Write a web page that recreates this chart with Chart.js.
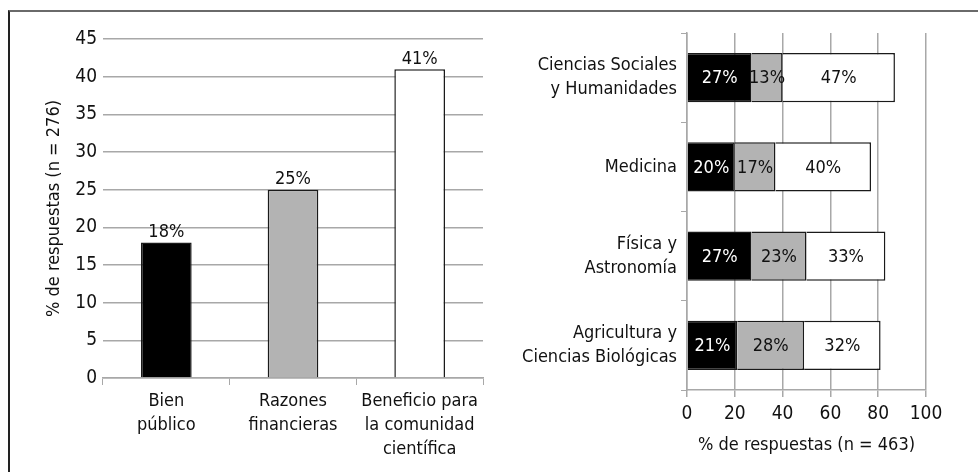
<!DOCTYPE html>
<html>
<head>
<meta charset="utf-8">
<script src="https://cdn.jsdelivr.net/npm/chart.js@4/dist/chart.umd.min.js"></script>
<style>
  html, body { margin: 0; padding: 0; background: #fff; }
  body { width: 978px; height: 472px; position: relative; overflow: hidden; }
  .frame { position: absolute; left: 8px; top: 10px; width: 1000px; height: 500px;
           border-top: 2px solid #6a6a6a; border-left: 2px solid #222; }
  .box { position: absolute; top: 0; height: 472px; }
  #leftBox { left: 0; width: 490px; }
  #rightBox { left: 490px; width: 488px; }
</style>
</head>
<body>
<div class="frame"></div>
<div class="box" id="leftBox"><canvas id="motivosChart"></canvas></div>
<div class="box" id="rightBox"><canvas id="areasChart"></canvas></div>
<script>
// data
const motivos = [["Bien", "público"], ["Razones", "financieras"], ["Beneficio para", "la comunidad", "científica"]];
const motivoValores = [18, 25, 41];

const areas = [["Ciencias Sociales", "y Humanidades"], "Medicina", ["Física y", "Astronomía"], ["Agricultura y", "Ciencias Biológicas"]];
const serieNegra = [27, 20, 27, 21];
const serieGris = [13, 17, 23, 28];
const serieBlanca = [47, 40, 33, 32];

const FONT = "'Liberation Sans Narrow', 'DejaVu Sans Condensed', 'Liberation Sans', sans-serif";
Chart.defaults.font.family = FONT;
Chart.defaults.font.size = 18;
Chart.defaults.color = "#111";
Chart.defaults.animation = false;
Chart.defaults.responsive = true;
Chart.defaults.maintainAspectRatio = false;

const GRID = "#a8a8a8";

// percent labels on the bars
const barLabels = {
  id: "barLabels",
  afterDatasetsDraw(chart, args, opts) {
    const ctx = chart.ctx;
    ctx.save();
    ctx.font = "18px " + FONT;
    ctx.textAlign = "center";
    chart.data.datasets.forEach((ds, i) => {
      chart.getDatasetMeta(i).data.forEach((bar, j) => {
        const txt = ds.data[j] + "%";
        if (opts.mode === "top") {
          ctx.fillStyle = "#111";
          ctx.textBaseline = "bottom";
          ctx.fillText(txt, bar.x, bar.y - 1);
        } else {
          ctx.fillStyle = ds.labelColor || "#111";
          ctx.textBaseline = "middle";
          ctx.fillText(txt, (bar.x + bar.base) / 2, bar.y + 1);
        }
      });
    });
    ctx.restore();
  }
};

// Left: motivos
new Chart(document.getElementById("motivosChart"), {
  type: "bar",
  data: {
    labels: motivos,
    datasets: [{
      data: motivoValores,
      backgroundColor: ["#000000", "#b3b3b3", "#ffffff"],
      borderColor: "#1a1a1a",
      borderWidth: 1.5,
      barPercentage: 0.4,
      categoryPercentage: 1
    }]
  },
  options: {
    layout: { padding: { top: 39, right: 7, left: 0, bottom: 0 } },
    plugins: { legend: { display: false }, tooltip: { enabled: false }, barLabels: { mode: "top" } },
    scales: {
      x: {
        grid: { drawOnChartArea: false, color: GRID, tickLength: 7 },
        border: { color: GRID, width: 1.5 },
        ticks: { padding: 4, font: { size: 18, lineHeight: 1.33 }, maxRotation: 0 },
        afterFit(scale) { scale.height = 94; }
      },
      y: {
        min: 0, max: 45,
        ticks: { stepSize: 5, padding: 6, font: { size: 19 } },
        grid: { color: GRID, lineWidth: 1.5, drawTicks: false },
        border: { display: false },
        title: { display: true, text: "% de respuestas (n = 276)", font: { size: 18 }, padding: { top: 44 } },
        afterFit(scale) { scale.width = 103; }
      }
    }
  },
  plugins: [barLabels]
});

// Right: areas
new Chart(document.getElementById("areasChart"), {
  type: "bar",
  data: {
    labels: areas,
    datasets: [
      { data: serieNegra, backgroundColor: "#000000", labelColor: "#ffffff" },
      { data: serieGris, backgroundColor: "#b3b3b3" },
      { data: serieBlanca, backgroundColor: "#ffffff" }
    ].map(d => Object.assign(d, { borderColor: "#1a1a1a", borderWidth: 1.5, barPercentage: 0.55, categoryPercentage: 1 }))
  },
  options: {
    indexAxis: "y",
    layout: { padding: { top: 33, right: 52, left: 0, bottom: 0 } },
    plugins: { legend: { display: false }, tooltip: { enabled: false }, barLabels: { mode: "inside" } },
    scales: {
      x: {
        stacked: true,
        min: 0, max: 100,
        ticks: { stepSize: 20, padding: 6, font: { size: 19 } },
        grid: { color: GRID, lineWidth: 1.5, tickLength: 7 },
        border: { color: GRID, width: 1.5 },
        title: { display: true, text: "% de respuestas (n = 463)", font: { size: 18 }, padding: { top: 4, bottom: 16 } },
        afterFit(scale) { scale.height = 82; }
      },
      y: {
        stacked: true,
        grid: { drawOnChartArea: false, color: GRID, tickLength: 6 },
        border: { color: GRID, width: 1.5 },
        ticks: { padding: 4, font: { size: 18, lineHeight: 1.33 } },
        afterFit(scale) { scale.width = 197; }
      }
    }
  },
  plugins: [barLabels]
});
</script>
</body>
</html>
